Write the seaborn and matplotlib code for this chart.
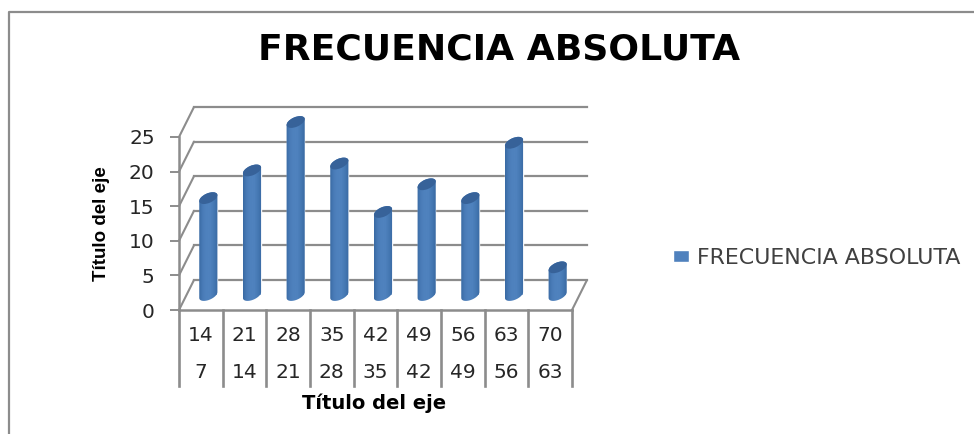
import numpy as np
import pandas as pd
import matplotlib
matplotlib.use("Agg")
import matplotlib.pyplot as plt
from matplotlib.colors import LinearSegmentedColormap
from matplotlib.lines import Line2D
from matplotlib.patches import Ellipse, Patch
from matplotlib.path import Path
from matplotlib.transforms import Affine2D, IdentityTransform
import seaborn as sns

upper_labels = ["14", "21", "28", "35", "42", "49", "56", "63", "70"]
lower_labels = ["7", "14", "21", "28", "35", "42", "49", "56", "63"]
frequencies = [14, 18, 25, 19, 12, 16, 14, 22, 4]
y_ticks = [0, 5, 10, 15, 20, 25]
series_name = "FRECUENCIA ABSOLUTA"
axis_title = "Título del eje"

W, H = 974, 434
GREY = "#8c8c8c"
BLUE = "#4F81BD"

sns.set_theme(style="white")
plt.rcParams["font.family"] = ["DejaVu Sans"]

fig = plt.figure(figsize=(W / 100, H / 100), dpi=100, facecolor="white")
L, R, BASE, TOP = 179, 572, 310, 102
ax = fig.add_axes([L / W, 1 - BASE / H, (R - L) / W, (BASE - TOP) / H])
ax.patch.set_alpha(0)

df = pd.DataFrame({"clase": [f"{u}\n{l}" for u, l in zip(upper_labels, lower_labels)],
                   "frecuencia": frequencies})
sns.barplot(data=df, x="clase", y="frecuencia", color=BLUE, saturation=1, width=0.39, ax=ax, zorder=3)
n = len(df)
ax.set_xlim(-0.5, n - 0.5)
ax.set_ylim(0, (BASE - TOP) / 6.92)
sns.despine(ax=ax, left=True, bottom=True, top=True, right=True)

# Depth offsets of the pseudo-3D box, in pixels
mid = ax.transData + Affine2D().translate(7.5, 15)
for p in ax.patches:
    p.set_transform(mid)


def line(xs, ys, trans=None, lw=1.6):
    ax.add_line(Line2D(xs, ys, color=GREY, lw=lw, transform=trans or ax.transData,
                       clip_on=False, zorder=1, solid_capstyle="projecting"))


# back wall + left wall + floor
to_back = Affine2D().translate(15, 30)
xl, xr = -0.5, n - 0.5
for v in y_ticks:
    a = ax.transData.transform((xl, v))
    pts = np.array([a, a + (15, 30)])
    ax.add_line(Line2D(pts[:, 0], pts[:, 1], color=GREY, lw=1.5, transform=IdentityTransform(), clip_on=False, zorder=1))
    line([xl, xr], [v, v], ax.transData + to_back, 1.6)
a = ax.transData.transform((xr, 0))
pts = np.array([a, a + (15, 30)])
ax.add_line(Line2D(pts[:, 0], pts[:, 1], color=GREY, lw=1.5, transform=IdentityTransform(), clip_on=False, zorder=1))
line([xl, xr], [0, 0], lw=1.8)
line([xl, xl], [0, y_ticks[-1]], lw=1.8)

# Multi-level category separators
sep_bottom = -(386 - BASE) / 6.92
for k in range(n + 1):
    line([k - 0.5, k - 0.5], [0, sep_bottom], lw=1.9)

# Cylinder shading
cmap = LinearSegmentedColormap.from_list("cyl", ["#396AA3", "#4A7CB8", "#4F82BE", "#4F82BE", "#4578B3", "#3A6AA3"])
grad = np.linspace(0, 1, 64)[None, :]
A, B, THETA = 9.7, 4.8, np.radians(24)


def ell(c, t):
    x = A * np.cos(t) * np.cos(THETA) - B * np.sin(t) * np.sin(THETA)
    y = A * np.cos(t) * np.sin(THETA) + B * np.sin(t) * np.cos(THETA)
    return np.column_stack([c[0] + x, c[1] + y])


t0 = np.arctan2(-B * np.sin(THETA), A * np.cos(THETA))
for i, v in enumerate(frequencies):
    top = mid.transform((i, v))
    bot = mid.transform((i, 0))
    upper = ell(top, np.linspace(t0, t0 + np.pi, 40))
    lower = ell(bot, np.linspace(t0 + np.pi, t0 + 2 * np.pi, 40))
    outline = Path(np.vstack([upper, lower, upper[:1]]), closed=True)
    half = 0.39 / 2 + 0.02
    im = ax.imshow(grad, cmap=cmap, aspect="auto", extent=(i - half, i + half, -1.2, v + 1.2),
                   transform=mid, zorder=4, interpolation="bilinear")
    im.set_clip_path(outline, IdentityTransform())
    ax.add_patch(Ellipse(top, 2 * A, 2 * B, angle=np.degrees(THETA), facecolor="#376299",
                         edgecolor="none", transform=IdentityTransform(), zorder=5))
ax.set_xlim(-0.5, n - 0.5)
ax.set_ylim(0, (BASE - TOP) / 6.92)
ax.set_aspect("auto")

# Axis text
ax.set_yticks(y_ticks)
ax.tick_params(axis="y", left=True, length=6.5, width=1.4, color=GREY, pad=11, labelsize=14.5, labelcolor="#262626")
ax.tick_params(axis="x", bottom=False, pad=5.5, labelsize=14.5, labelcolor="#262626")
for lab in ax.get_xticklabels():
    lab.set_linespacing(2.2)
ax.set_xlabel("")
ax.set_ylabel("")
fig.text(374 / W, 1 - 403 / H, axis_title, ha="center", va="center", fontsize=14, fontweight="bold", color="black")
fig.text(101 / W, 1 - 224 / H, axis_title, rotation=90, ha="center", va="center", fontsize=13.5,
         fontweight="bold", color="black", family="Liberation Sans")
fig.text(499 / W, 1 - 50 / H, series_name, ha="center", va="center", fontsize=26, fontweight="bold",
         color="black", family="DejaVu Sans")

ax.legend(handles=[Patch(facecolor=BLUE, label=series_name)], loc="center left",
          bbox_to_anchor=(673 / W, 1 - 258 / H), bbox_transform=fig.transFigure, frameon=False,
          fontsize=15.9, labelcolor="#404040", handlelength=0.72, handleheight=0.5, handletextpad=0.36,
          borderpad=0, borderaxespad=0)

# Outer frame
fig.add_artist(Line2D([9 / W, 9 / W, 1], [0, 1 - 12 / H, 1 - 12 / H], color="#8c8c8c", lw=1.6))

fig.savefig("out.png", dpi=100, facecolor="white")
